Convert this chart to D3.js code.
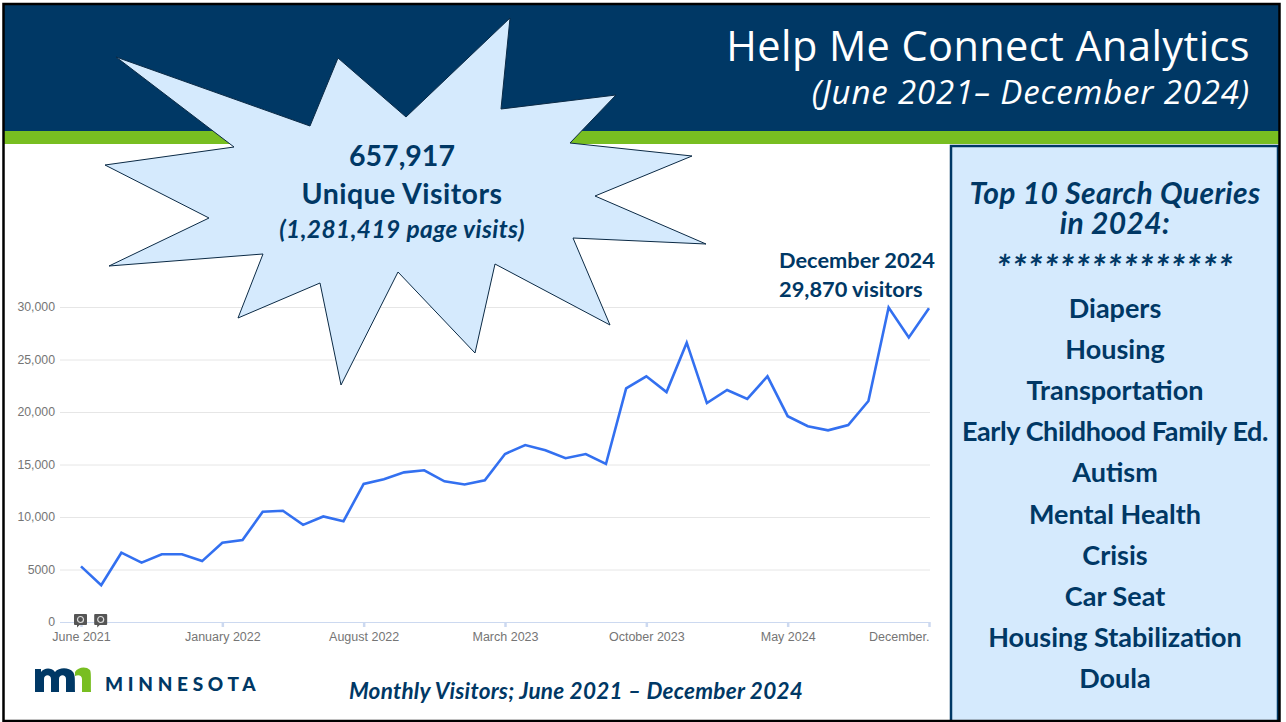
<!DOCTYPE html>
<html><head><meta charset="utf-8">
<script src="https://cdn.jsdelivr.net/npm/d3@7"></script>
<style>html,body{margin:0;padding:0;background:#fff;overflow:hidden}svg{display:block}</style>
</head><body><svg id="c" width="1286" height="722"></svg>
<script>
const months = ["Jun21","Jul21","Aug21","Sep21","Oct21","Nov21","Dec21","Jan22","Feb22","Mar22","Apr22","May22","Jun22","Jul22","Aug22","Sep22","Oct22","Nov22","Dec22","Jan23","Feb23","Mar23","Apr23","May23","Jun23","Jul23","Aug23","Sep23","Oct23","Nov23","Dec23","Jan24","Feb24","Mar24","Apr24","May24","Jun24","Jul24","Aug24","Sep24","Oct24","Nov24","Dec24"];
const visitors = [5300,3500,6600,5650,6450,6450,5800,7550,7800,10500,10600,9250,10050,9600,13150,13600,14250,14450,13400,13100,13500,16000,16850,16350,15600,16000,15050,22250,23400,21900,26600,20850,22100,21250,23400,19600,18650,18250,18750,21050,29950,27100,29870];
const yTicks = [0,5000,10000,15000,20000,25000,30000];
const xTickMonths = ["Jun21","Jan22","Aug22","Mar23","Oct23","May24","Dec24"];
const xTickLabels = ["June 2021","January 2022","August 2022","March 2023","October 2023","May 2024","December."];
const queries = ["Diapers","Housing","Transportation","Early Childhood Family Ed.","Autism","Mental Health","Crisis","Car Seat","Housing Stabilization","Doula"];
const burst = [[116,57],[310,126],[338,58],[406,117],[510,18],[501,109],[616,95],[570,143],[692,156],[595,196],[706,244],[573,238],[610,325],[495,264],[475,353],[398,272],[341,385],[320,283],[238,318],[263,254],[109,266],[209,218],[105,165],[234,147]];

const navy="#003865", green="#78BE21", pale="#D5EAFD";
const svg=d3.select("#c");
const bodyFont="Lato, 'Open Sans', sans-serif";
function label(x,y,str,size,opts={}){
  return svg.append("text").attr("x",x).attr("y",y).attr("text-anchor",opts.anchor||"middle").attr("fill",opts.fill||navy)
    .attr("font-family",opts.family||bodyFont).attr("font-weight",opts.weight||700).attr("font-style",opts.italic?"italic":"normal")
    .attr("font-size",size).attr("letter-spacing",opts.ls||0).text(str);
}
svg.append("rect").attr("width",1286).attr("height",722).attr("fill","#fff");
svg.append("rect").attr("x",4).attr("y",5).attr("width",1275).attr("height",126).attr("fill",navy);
svg.append("rect").attr("x",4).attr("y",131).attr("width",1275).attr("height",13).attr("fill",green);

// header
label(1250,61,"Help Me Connect Analytics",41.5,{anchor:"end",fill:"#fff",family:"'Open Sans',sans-serif",weight:400,ls:0.4});
label(1250,104,"(June 2021\u2013 December 2024)",33,{anchor:"end",fill:"#fff",family:"'Open Sans',sans-serif",weight:400,italic:true,ls:0.85});

// chart
const x=d3.scalePoint().domain(months).range([81,929]);
const y=d3.scaleLinear().domain([0,30000]).range([622,307]);
const gy=svg.append("g").attr("transform","translate(60,0)")
  .call(d3.axisLeft(y).tickValues(yTicks).tickSize(0).tickPadding(5).tickFormat(d=>d===5000?"5000":d3.format(",")(d)));
gy.select(".domain").remove();
gy.selectAll("text").attr("fill","#757575").attr("font-family","'Liberation Sans',Arial,sans-serif").attr("font-size",12.3).attr("dy","0.32em");
gy.selectAll("line").attr("x1",0).attr("x2",870).attr("stroke",d=>d===0?"#CCD9F0":"#E6E6E6").attr("stroke-width",1);

const gx=svg.append("g").attr("transform","translate(0,622)")
  .call(d3.axisBottom(x).tickValues(xTickMonths).tickSize(5).tickPadding(5).tickFormat((d,i)=>xTickLabels[i]));
gx.select(".domain").remove();
gx.selectAll("line").attr("stroke","#CCD9F0").attr("stroke-width",2.5);
gx.selectAll("text").attr("fill","#757575").attr("font-family","'Liberation Sans',Arial,sans-serif").attr("font-size",12.5);
gx.selectAll("text").filter(d=>d==="Dec24").attr("text-anchor","end");

// note markers
["Jun21","Jul21"].forEach(m=>{
  const g=svg.append("g").attr("transform",`translate(${x(m)},620.5)`);
  g.append("rect").attr("x",-7).attr("y",-6.5).attr("width",13).attr("height",11).attr("rx",1).attr("fill","#555");
  g.append("path").attr("d","M-4,4L-4,7L-1,4Z").attr("fill","#555");
  g.append("circle").attr("cx",-.5).attr("cy",-1).attr("r",3).attr("fill","none").attr("stroke","#ddd").attr("stroke-width",1.2);
});

svg.append("path").datum(visitors).attr("fill","none").attr("stroke","#3370F0").attr("stroke-width",2.6).attr("stroke-linejoin","miter")
  .attr("d",d3.line().x((d,i)=>x(months[i])).y(d=>y(d)));

// annotation
label(779,268,"December 2024",21.8,{anchor:"start"});
label(779,297,"29,870 visitors",21.8,{anchor:"start"});

// starburst
svg.append("path").attr("d",d3.line()(burst)+"Z").attr("fill",pale).attr("stroke","#0b2a45").attr("stroke-width",1).attr("stroke-miterlimit",30);
label(402,166,"657,917",28.5);
label(402,204,"Unique Visitors",28.5,{ls:0.45});
label(402,238,"(1,281,419 page visits)",24.5,{italic:true,ls:0.4});

// panel
svg.append("rect").attr("x",951).attr("y",146).attr("width",327).attr("height",577).attr("fill",pale).attr("stroke",navy).attr("stroke-width",2.5);
const cx=1115;
label(cx,204,"Top 10 Search Queries",30,{italic:true,ls:0.35});
label(cx,234,"in 2024:",30,{italic:true,ls:0.35});
label(cx,281,"***************",37,{italic:true,ls:1.2});
const qy=d3.scalePoint().domain(queries).range([318,688]);
queries.forEach(q=>label(cx,qy(q),q,27,{ls:q.startsWith("Early")?-0.4:0}));

// caption
label(576,699,"Monthly Visitors; June 2021 \u2013 December 2024",22.5,{italic:true,ls:0.25});

// logo
svg.append("path").attr("fill",navy).attr("d","M35,692V669H41V672C44,668 51,667 55,672C59,667 69,667 73,672C75,675 75,677 75,692H66V679C66,674 59,674 59,679V692H51V679C51,674 44,674 44,679V692Z");
svg.append("path").attr("fill",green).attr("d","M75,672C78,667 86,666 90,670C91,672 91,675 91,692H82V679C82,676 79,674 75,676Z");
label(105,691,"MINNESOTA",19,{anchor:"start",family:"Lato,sans-serif",weight:900,ls:4.7});

// frame
svg.append("rect").attr("x",3.5).attr("y",4).attr("width",1276).attr("height",717).attr("fill","none").attr("stroke","#000").attr("stroke-width",2.5);
</script></body></html>
